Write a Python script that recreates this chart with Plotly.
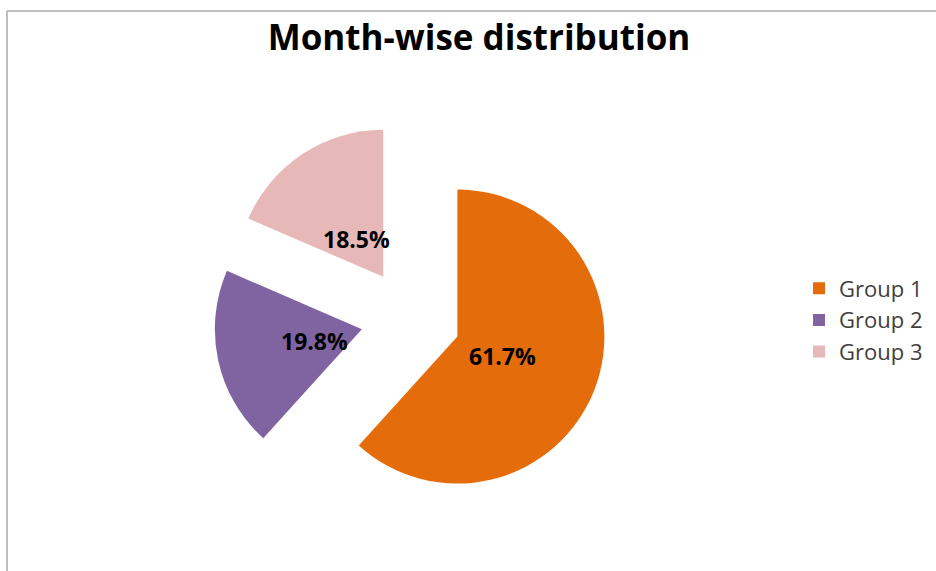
import math
import plotly.graph_objects as go

labels = ["Group 1", "Group 2", "Group 3"]
values = [61.7, 19.8, 18.5]
colors = ["#E46C0A", "#8064A2", "#E6B9B8"]
title_text = "Month-wise distribution"

W, H = 936, 571
dom_x = [0.2283, 0.6493]
dom_y = [0.0970, 0.7870]
pull = 0.34

fig = go.Figure(
    go.Pie(
        labels=labels,
        values=values,
        marker=dict(colors=colors, line=dict(width=0)),
        sort=False,
        direction="clockwise",
        rotation=0,
        pull=[pull] * len(values),
        textinfo="none",
        domain=dict(x=dom_x, y=dom_y),
        showlegend=True,
    )
)

# percentage labels placed along each slice's mid-angle (derived from the values)
total = sum(values)
cx = (dom_x[0] + dom_x[1]) / 2
cy = (dom_y[0] + dom_y[1]) / 2
r_px = min((dom_x[1] - dom_x[0]) * W, (dom_y[1] - dom_y[0]) * H) / (2 + 2 * pull)
label_dist = r_px * 0.667
annotations = []
cum = 0.0
for v in values:
    mid = (cum + v / 2) / total * 2 * math.pi
    cum += v
    ax = cx + label_dist * math.sin(mid) / W
    ay = cy + label_dist * math.cos(mid) / H
    annotations.append(dict(
        x=ax, y=ay, xref="paper", yref="paper",
        text=f"{v / total * 100:.1f}%",
        showarrow=False, xanchor="center", yanchor="middle", yshift=-2,
        font=dict(family="Open Sans", size=23, color="black", weight="bold"),
    ))

fig.update_layout(
    width=W,
    height=H,
    margin=dict(l=0, r=0, t=0, b=0),
    paper_bgcolor="white",
    plot_bgcolor="white",
    title=dict(
        text="<b>" + title_text + "</b>",
        x=479 / W,
        xanchor="center",
        y=1 - 38 / H,
        yanchor="middle",
        font=dict(family="Open Sans", size=35, color="black"),
    ),
    legend=dict(
        x=799 / W,
        xanchor="left",
        y=1 - 320 / H,
        yanchor="middle",
        itemwidth=30,
        font=dict(family="Open Sans", size=22, color="#404040"),
        bgcolor="rgba(0,0,0,0)",
        tracegroupgap=0,
    ),
    annotations=annotations,
    shapes=[
        dict(type="line", xref="paper", yref="paper",
             x0=7 / W, x1=1.0, y0=1 - 11 / H, y1=1 - 11 / H,
             line=dict(color="#BFBFBF", width=2)),
        dict(type="line", xref="paper", yref="paper",
             x0=7 / W, x1=7 / W, y0=0, y1=1 - 11 / H,
             line=dict(color="#BFBFBF", width=2)),
    ],
)

fig.write_html(
    "out.html",
    config={"displayModeBar": False},
    post_script="document.body.style.margin='0';document.body.style.overflow='hidden';",
)
